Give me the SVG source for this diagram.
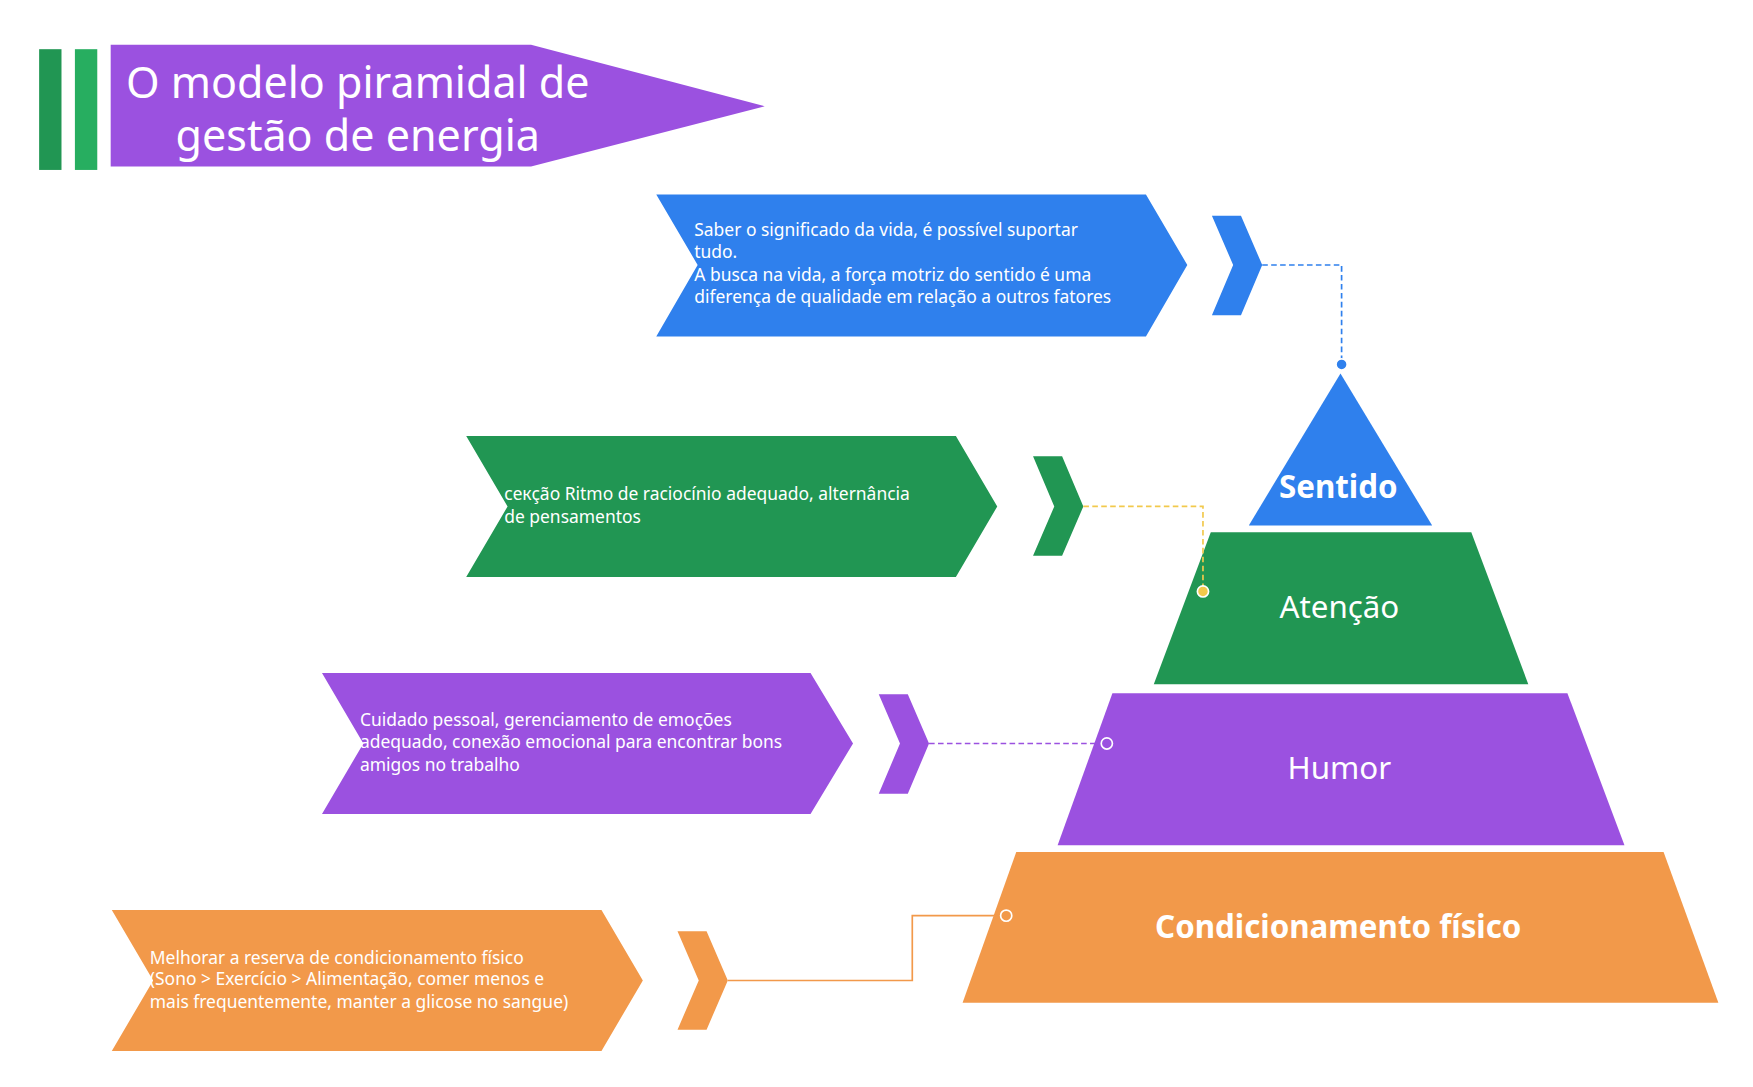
<svg xmlns="http://www.w3.org/2000/svg" width="1753" height="1087" viewBox="0 0 1753 1087">
<style>
text{font-family:"Noto Sans","Open Sans",sans-serif;fill:#fff}
.t{font-size:15.6px}
.p{font-size:28px;text-anchor:middle}
.b{font-weight:bold}
.d{stroke:#fff;stroke-width:1.5}
</style>
<rect width="1753" height="1087" fill="#fff"/>
<g transform="scale(1.118)">
<g id="title">
<rect x="35" y="44" width="20" height="108" fill="#219653"/>
<rect x="67" y="44" width="20" height="108" fill="#27ae60"/>
<polygon points="99,40 475,40 684,95 475,149 99,149" fill="#9b51e0"/>
<text x="320" y="88" font-size="38.5" text-anchor="middle">O modelo piramidal de</text>
<text x="320" y="135" font-size="38.5" text-anchor="middle">gestão de energia</text>
</g>
<g id="blue">
<polygon points="587,174 1025,174 1062,237 1025,301 587,301 624,237" fill="#2f80ed"/>
<text class="t" x="621" y="211">Saber o significado da vida, é possível suportar</text>
<text class="t" x="621" y="231">tudo.</text>
<text class="t" x="621" y="251">A busca na vida, a força motriz do sentido é uma</text>
<text class="t" x="621" y="271">diferença de qualidade em relação a outros fatores</text>
<polygon points="1084,193 1110,193 1129,237 1110,282 1084,282 1103,237" fill="#2f80ed"/>
</g>
<g id="green">
<polygon points="417,390 855,390 892,453 855,516 417,516 454,453" fill="#219653"/>
<text class="t" x="451" y="447">секção Ritmo de raciocínio adequado, alternância</text>
<text class="t" x="451" y="468">de pensamentos</text>
<polygon points="924,408 950,408 969,453 950,497 924,497 943,453" fill="#219653"/>
</g>
<g id="purple">
<polygon points="288,602 725,602 763,665 725,728 288,728 325,665" fill="#9b51e0"/>
<text class="t" x="322" y="649">Cuidado pessoal, gerenciamento de emoções</text>
<text class="t" x="322" y="669">adequado, conexão emocional para encontrar bons</text>
<text class="t" x="322" y="690">amigos no trabalho</text>
<polygon points="786,621 812,621 831,665 812,710 786,710 805,665" fill="#9b51e0"/>
</g>
<g id="orange">
<polygon points="100,814 538,814 575,877 538,940 100,940 137,877" fill="#f2994a"/>
<text class="t" x="134" y="862">Melhorar a reserva de condicionamento físico</text>
<text class="t" x="134" y="881">(Sono &gt; Exercício &gt; Alimentação, comer menos e</text>
<text class="t" x="134" y="902">mais frequentemente, manter a glicose no sangue)</text>
<polygon points="606,833 632,833 651,877 632,921 606,921 625,877" fill="#f2994a"/>
</g>
<g id="pyr-sentido">
<polygon points="1199,334 1281,470 1117,470" fill="#2f80ed"/>
<text class="p b" x="1197" y="445">Sentido</text>
</g>
<g id="pyr-atencao">
<polygon points="1083,476 1316,476 1367,612 1032,612" fill="#219653"/>
<text class="p" x="1198" y="553">Atenção</text>
</g>
<g id="pyr-humor">
<polygon points="995,620 1402,620 1453,756 946,756" fill="#9b51e0"/>
<text class="p" x="1198" y="697">Humor</text>
</g>
<g id="pyr-cond">
<polygon points="909,762 1488,762 1537,897 861,897" fill="#f2994a"/>
<text class="p b" x="1197" y="839">Condicionamento físico</text>
</g>
<g id="connectors" fill="none" stroke-width="1.5">
<polyline points="1129,237 1200,237 1200,326" stroke="#2f80ed" stroke-dasharray="5,3"/>
<circle class="d" cx="1200" cy="326" r="5" fill="#2f80ed"/>
<polyline points="969,453 1076,453 1076,529" stroke="#f2c94c" stroke-dasharray="5,3"/>
<circle class="d" cx="1076" cy="529" r="5" fill="#f2c94c"/>
<polyline points="831,665 990,665" stroke="#9b51e0" stroke-dasharray="5,3"/>
<circle class="d" cx="990" cy="665" r="5" fill="#9b51e0"/>
<polyline points="651,877 816,877 816,819 900,819" stroke="#f2994a"/>
<circle class="d" cx="900" cy="819" r="5" fill="#f2994a"/>
</g>
</g>
</svg>
